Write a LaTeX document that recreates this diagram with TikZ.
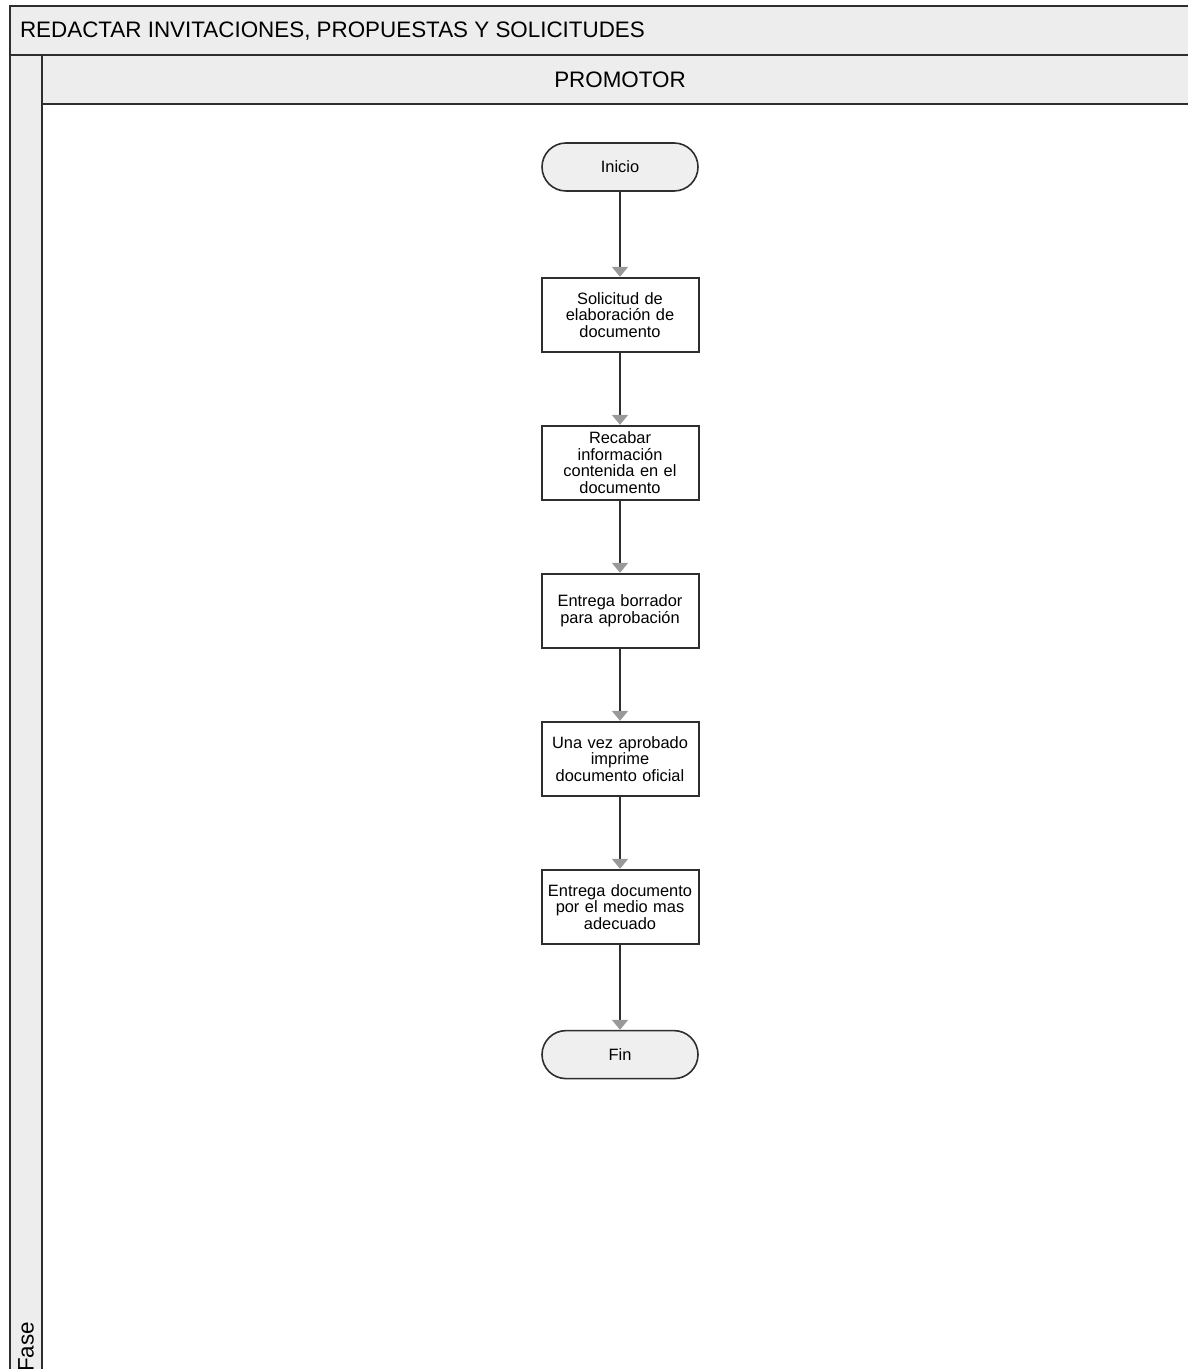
\documentclass[tikz,border=0pt]{standalone}
\usepackage{fontspec}
\setmainfont{Liberation Sans}
\usetikzlibrary{positioning, arrows.meta}
\usepackage[svgnames]{xcolor}

\definecolor{bandgray}{HTML}{EDEDED}
\definecolor{termgray}{HTML}{EFEFEF}
\definecolor{linegray}{HTML}{2E2E2E}

\tikzset{
    paso/.style={
        draw=linegray, line width=1pt, fill=white,
        minimum width=78.5pt, minimum height=37pt,
        text width=75pt, align=center, inner sep=1pt,
        font=\fontsize{8.2}{8.3}\selectfont
    },
    terminal/.style={
        draw=linegray, line width=0.8pt, fill=termgray,
        rounded corners=12pt,
        minimum width=78pt, minimum height=24pt,
        font=\fontsize{8.2}{8.3}\selectfont
    },
    flecha/.style={
        draw=linegray, line width=1pt,
        -{Triangle[width=8pt, length=5pt, color=gray!80]}
    }
}

\begin{document}
\begin{tikzpicture}[x=0.5pt, y=-0.5pt]
\useasboundingbox (0,0) rectangle (1188,1369);

% bandas del encabezado
\fill[bandgray] (10,6) rectangle (1188,55);
\fill[bandgray] (42,55) rectangle (1188,104);
\fill[bandgray] (10,55) rectangle (42,1369);
\draw[linegray, line width=1pt] (1188,6) -- (10,6) -- (10,1369);
\draw[linegray, line width=1pt] (10,55) -- (1188,55);
\draw[linegray, line width=1pt] (42,55) -- (42,1369);
\draw[linegray, line width=1pt] (42,104) -- (1188,104);

\node[anchor=west, font=\fontsize{11.2}{13}\selectfont] (titulo)
at (13,31) {REDACTAR INVITACIONES, PROPUESTAS Y SOLICITUDES};
\node[font=\fontsize{11.2}{13}\selectfont] (carril) at (620,80) {PROMOTOR};
\node[rotate=90, anchor=west, font=\fontsize{11.2}{13}\selectfont] (fase)
at (26,1379) {Fase};

% flujo
\node[terminal] (inicio) at (620,167) {Inicio};
\node[paso, below=42.5pt of inicio] (solicitud) {Solicitud de\\elaboración de\\documento};
\node[paso, below=36pt of solicitud] (recabar) {Recabar\\información\\contenida en el\\documento};
\node[paso, below=36pt of recabar] (borrador) {Entrega borrador\\para aprobación};
\node[paso, below=36pt of borrador] (imprime) {Una vez aprobado\\imprime\\documento oficial};
\node[paso, below=36pt of imprime] (entrega) {Entrega documento\\por el medio mas\\adecuado};
\node[terminal, below=42.5pt of entrega] (fin) {Fin};

\draw[flecha] (inicio) -- (solicitud);
\draw[flecha] (solicitud) -- (recabar);
\draw[flecha] (recabar) -- (borrador);
\draw[flecha] (borrador) -- (imprime);
\draw[flecha] (imprime) -- (entrega);
\draw[flecha] (entrega) -- (fin);
\end{tikzpicture}
\end{document}
